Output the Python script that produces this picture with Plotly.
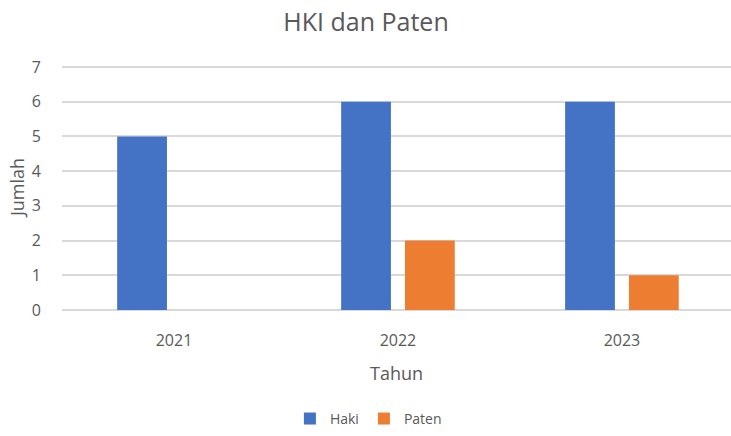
import plotly.graph_objects as go

years = ["2021", "2022", "2023"]
haki = [5, 6, 6]
paten = [0, 2, 1]
y_ticks = [0, 1, 2, 3, 4, 5, 6, 7]

FONT = "Open Sans"
GRAY = "#595959"

W, H = 731, 436
L, T, B = 62, 66, 126

fig = go.Figure()
fig.add_trace(go.Bar(name="Haki", x=years, y=haki, marker=dict(color="#4472C4", line=dict(width=0))))
fig.add_trace(go.Bar(name="Paten", x=years, y=paten, marker=dict(color="#ED7D31", line=dict(width=0))))

fig.update_layout(
    width=W, height=H,
    margin=dict(l=L, r=0, t=T, b=B),
    paper_bgcolor="white", plot_bgcolor="white",
    barmode="group", bargap=0.43, bargroupgap=0.22,
    font=dict(family=FONT, color=GRAY, size=15),
    title=dict(text="HKI dan Paten", x=366/W, xref="container", xanchor="center",
               y=1 - 22/H, yref="container", yanchor="middle",
               font=dict(size=25, color=GRAY, family=FONT)),
    showlegend=True,
    legend=dict(orientation="h", x=0.458, xanchor="center", y=-0.512, yanchor="bottom",
                font=dict(size=14, color=GRAY), traceorder="normal"),
    xaxis=dict(type="category", range=[-0.5, 2.487], showgrid=False, showline=False,
               ticks="", ticklabelstandoff=19, tickfont=dict(size=16, color=GRAY),
               title=dict(text="Tahun", font=dict(size=18, color=GRAY), standoff=17)),
    yaxis=dict(range=[0, 7.03], tickvals=y_ticks, showgrid=True, gridcolor="#D9D9D9", gridwidth=1.5,
               zeroline=True, zerolinecolor="#D9D9D9", zerolinewidth=1.5,
               showline=False, ticks="", ticklabelstandoff=20, tickfont=dict(size=16, color=GRAY)),
    annotations=[dict(text="Jumlah", textangle=-90, xref="paper", yref="paper",
                      x=(17 - L) / (W - L), y=0.5, xanchor="center", yanchor="middle",
                      showarrow=False, font=dict(size=18, color=GRAY, family=FONT))],
)

fig.write_html("out.html", config={"displayModeBar": False},
               post_script="document.body.style.margin='0';document.body.style.overflow='hidden';")
